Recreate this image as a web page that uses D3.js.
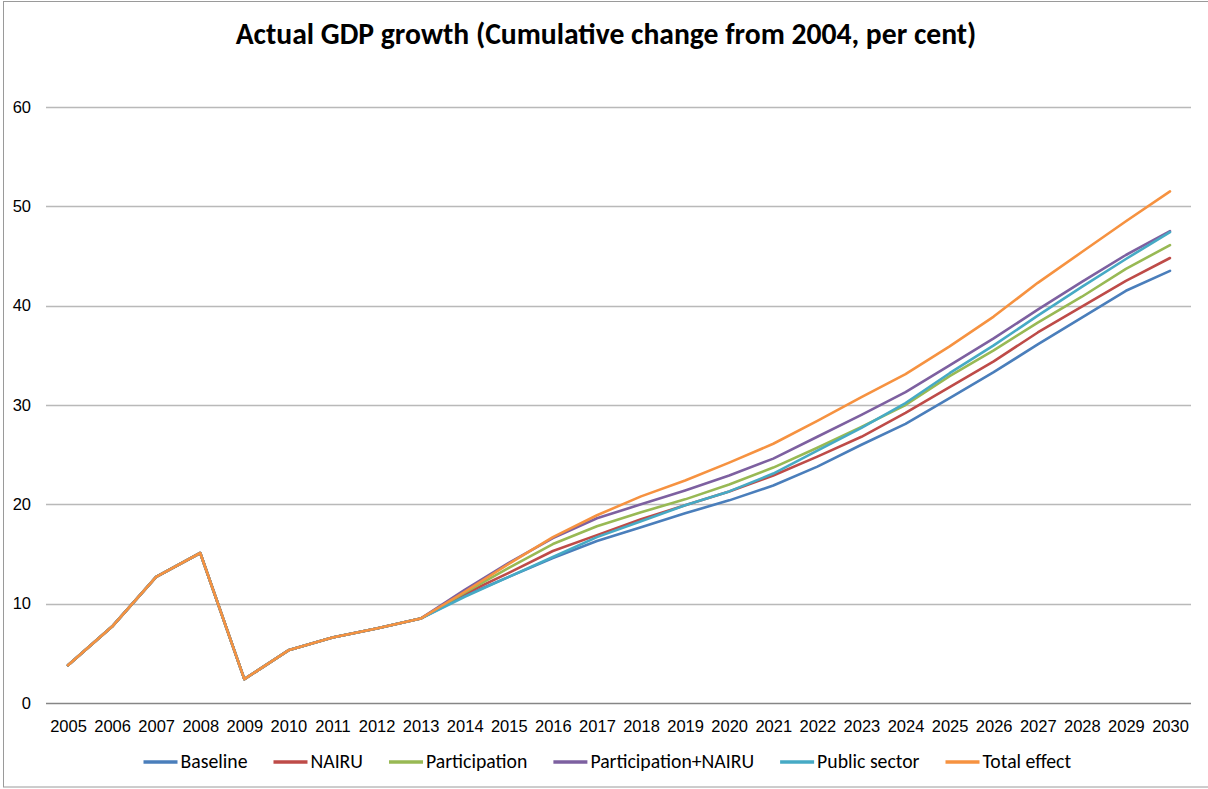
<!DOCTYPE html>
<html><head><meta charset="utf-8">
<script src="https://cdn.jsdelivr.net/npm/d3@7"></script>
<style>
html,body{margin:0;padding:0;background:#fff;}
svg{display:block;font-family:Carlito,Calibri,Lato,"Open Sans",sans-serif;}
</style></head>
<body>
<svg id="c" width="1208" height="789"></svg>
<script>
const years = d3.range(2005, 2031);
const common = [3.8, 7.7, 12.7, 15.1, 2.4, 5.3, 6.6, 7.5, 8.5];
const baseline      = [10.8, 12.7, 14.6, 16.3, 17.7, 19.1, 20.4, 21.9, 23.8, 26.0, 28.1, 30.7, 33.3, 36.1, 38.8, 41.5, 43.5];
const nairu         = [11.0, 13.1, 15.3, 16.9, 18.5, 19.9, 21.3, 22.9, 24.8, 26.8, 29.2, 31.8, 34.4, 37.3, 39.9, 42.5, 44.8];
const participation = [11.1, 13.6, 16.0, 17.8, 19.2, 20.5, 22.0, 23.7, 25.7, 27.8, 30.0, 32.9, 35.5, 38.3, 40.9, 43.7, 46.1];
const partNairu     = [11.4, 14.1, 16.6, 18.6, 20.0, 21.4, 22.9, 24.6, 26.8, 29.0, 31.3, 34.0, 36.7, 39.6, 42.4, 45.1, 47.5];
const publicSector  = [10.7, 12.7, 14.7, 16.7, 18.3, 19.9, 21.3, 23.1, 25.4, 27.7, 30.2, 33.2, 36.0, 39.0, 41.9, 44.7, 47.4];
const totalEffect   = [11.2, 14.0, 16.7, 18.9, 20.8, 22.4, 24.2, 26.1, 28.4, 30.8, 33.1, 35.9, 38.9, 42.3, 45.4, 48.5, 51.5];
const seriesNames = ["Baseline", "NAIRU", "Participation", "Participation+NAIRU", "Public sector", "Total effect"];
const seriesColors = ["#4A7EBB", "#BE4B48", "#98B954", "#7D60A0", "#46AAC5", "#F69240"];
const yTicks = [0, 10, 20, 30, 40, 50, 60];
const title = "Actual GDP growth (Cumulative change from 2004, per cent)";

const seriesValues = [baseline, nairu, participation, partNairu, publicSector, totalEffect].map(v => common.concat(v));

const svg = d3.select("#c");
svg.append("rect").attr("x", 3.5).attr("y", 1.5).attr("width", 1230).attr("height", 785.5)
  .attr("fill", "#fff").attr("stroke", "#9a9a9a").attr("stroke-width", 1);

const x = d3.scalePoint().domain(years).range([68, 1170]);
const y = d3.scaleLinear().domain([0, 60]).range([703, 107]);
const plotL = 46, plotR = 1191;

// gridlines
svg.append("g").selectAll("line").data(yTicks.filter(t => t > 0)).join("line")
  .attr("x1", plotL).attr("x2", plotR)
  .attr("y1", d => Math.round(y(d)) + 0.5).attr("y2", d => Math.round(y(d)) + 0.5)
  .attr("stroke", "#b9b9b9").attr("stroke-width", 1.3);

// y axis labels
const yAxis = d3.axisLeft(y).tickValues(yTicks).tickSize(0).tickPadding(0);
const gy = svg.append("g").attr("transform", "translate(31,0)").call(yAxis);
gy.select(".domain").remove();
gy.selectAll("text").attr("font-size", 16.5).attr("fill", "#000").attr("font-family", null);

// x axis
const xAxis = d3.axisBottom(x).tickSize(0).tickPadding(0);
const gx = svg.append("g").attr("transform", `translate(0,${Math.round(y(0)) + 0.5})`).call(xAxis);
gx.select(".domain").attr("d", `M${plotL - 64 + 64},0H${plotR}`).attr("stroke", "#868686").attr("stroke-width", 1.3);
gx.selectAll("text").attr("font-size", 16.5).attr("fill", "#000").attr("font-family", null).attr("dy", "0").attr("y", 28);

// lines
const line = d3.line().x((d, i) => x(years[i])).y(d => y(d));
svg.append("g").selectAll("path").data(seriesValues).join("path")
  .attr("d", d => line(d)).attr("fill", "none")
  .attr("stroke", (d, i) => seriesColors[i]).attr("stroke-width", 2.6)
  .attr("stroke-linejoin", "round").attr("stroke-linecap", "round");

// title
const t = svg.append("text").attr("x", 606).attr("y", 44).attr("text-anchor", "middle")
  .attr("font-weight", "bold").attr("font-size", 25).attr("fill", "#000").text(title);
const tw = t.node().getComputedTextLength();
t.attr("font-size", 25 * 741 / tw);

// legend
const lg = svg.append("g");
const items = lg.selectAll("g").data(seriesNames).join("g");
items.append("line").attr("x1", 0).attr("x2", 34).attr("y1", 0).attr("y2", 0)
  .attr("stroke", (d, i) => seriesColors[i]).attr("stroke-width", 3.5);
items.append("text").attr("x", 37).attr("y", 6).attr("font-size", 17.5).attr("fill", "#000").text(d => d);
// scale legend font to match target width of "Baseline"
const bw = items.select("text").node().getComputedTextLength();
const lfs = 17.5 * 67 / bw;
items.select("text").attr("font-size", lfs);
let cx = 0;
const widths = [];
items.each(function() { widths.push(37 + d3.select(this).select("text").node().getComputedTextLength()); });
const gap = 26;
const total = d3.sum(widths) + gap * (widths.length - 1);
let start = 143.5;
items.attr("transform", (d, i) => { const p = start + d3.sum(widths.slice(0, i)) + gap * i; return `translate(${p},762)`; });
</script>
</body></html>
